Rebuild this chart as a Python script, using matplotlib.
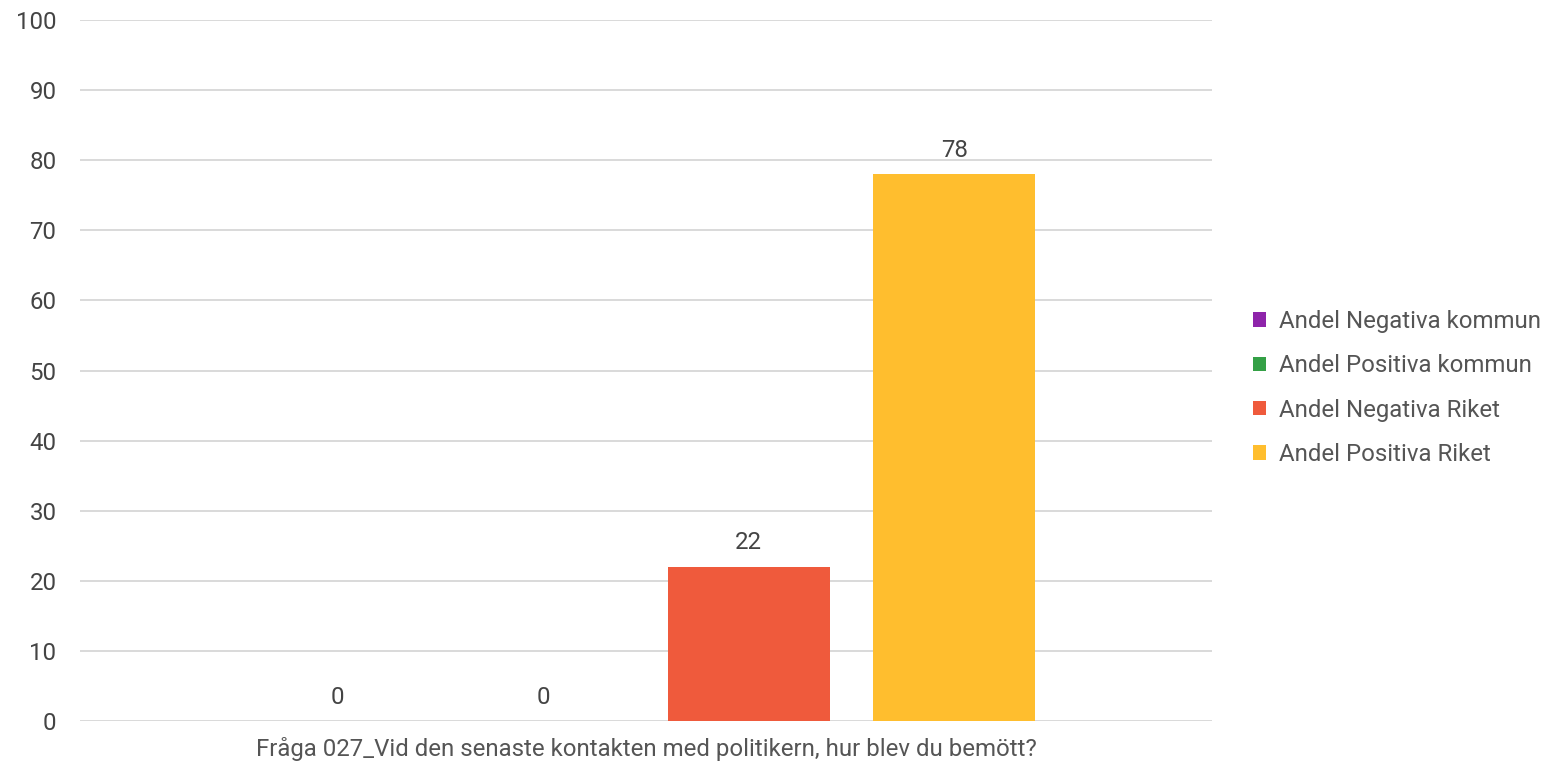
import matplotlib
matplotlib.use("Agg")
import matplotlib.pyplot as plt
from matplotlib.patches import Patch

plt.rcParams['font.family'] = ['Roboto', 'DejaVu Sans']

series = ["Andel Negativa kommun", "Andel Positiva kommun", "Andel Negativa Riket", "Andel Positiva Riket"]
values = [0, 0, 22, 78]
colors = ["#8E24AA", "#34A046", "#EF5A3C", "#FFBE2E"]
category = "Fråga 027_Vid den senaste kontakten med politikern, hur blev du bemött?"
yticks = [0, 10, 20, 30, 40, 50, 60, 70, 80, 90, 100]

FS = 17.3
W, H = 1548, 766
fig = plt.figure(figsize=(W / 100, H / 100), dpi=100)
ax = fig.add_axes([80 / W, 45 / H, (1212 - 80) / W, (721 - 20) / H])

xs = list(range(len(values)))
width = 0.788
bars = ax.bar(xs, values, width=width, color=colors, zorder=3)
for x, v in zip(xs, values):
    ax.annotate(f"{v}", (x, v), xytext=(0, 9), textcoords="offset points",
                ha="center", va="bottom", fontsize=FS, color="#444444")

ax.set_xlim(1.5 - 2.753, 1.5 + 2.753)
ax.set_ylim(0, 100)
ax.set_yticks(yticks)
ax.set_yticklabels([str(t) for t in yticks], fontsize=FS, color="#444444")
ax.set_xticks([1.5])
ax.set_xticklabels([category], fontsize=FS, color="#555555")
ax.tick_params(axis="both", length=0)
ax.tick_params(axis="y", pad=17)
ax.tick_params(axis="x", pad=11.5)
ax.grid(axis="y", color="#d9d9d9", linewidth=1.4, zorder=0)
for s in ax.spines.values():
    s.set_visible(False)

handles = [Patch(facecolor=c, edgecolor="none") for c in colors]
fig.legend(handles, series, loc="center left", bbox_to_anchor=(1231 / W, 1 - 388 / H),
           frameon=False, fontsize=FS, labelcolor="#555555",
           handlelength=0.55, handleheight=0.55, handletextpad=0.55, labelspacing=0.89)

fig.savefig("out.png", dpi=100)
